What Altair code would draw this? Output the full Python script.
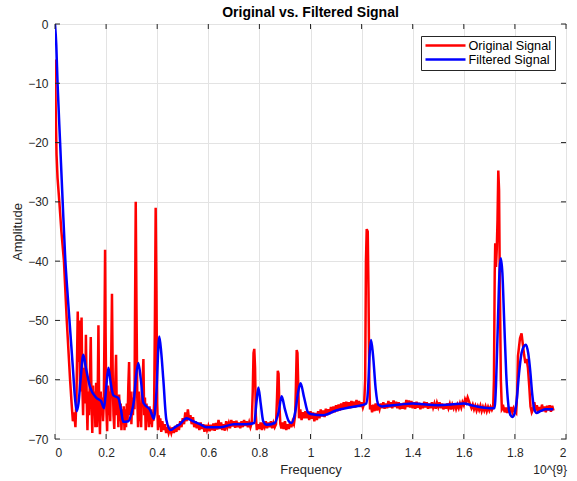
import altair as alt
import pandas as pd

# ---- data ----
red_pts = [
(0.000,-6.0),(0.003,-15),(0.006,-22),(0.010,-26),(0.017,-30),(0.025,-35),(0.035,-40),(0.046,-50),(0.059,-60),(0.065,-64),
(0.070,-67),(0.075,-65.5),(0.080,-68),(0.084,-63),(0.089,-48.5),(0.092,-57),(0.095,-50),(0.098,-62),(0.101,-55),(0.104,-49.5),(0.107,-61),(0.110,-66),(0.113,-58),(0.116,-64),(0.119,-60),(0.121,-52.4),(0.124,-63),(0.127,-68.5),(0.130,-62),(0.133,-66),(0.136,-61),(0.140,-52.8),(0.143,-64),(0.146,-69),(0.149,-61),(0.152,-66),(0.155,-62),(0.158,-68),(0.161,-60.5),(0.164,-68),(0.167,-63),(0.170,-50.8),(0.173,-65),(0.176,-69.2),(0.179,-62),(0.182,-66),(0.185,-63),(0.188,-67),(0.191,-64),(0.194,-50),(0.196,-38.1),(0.198,-52),(0.201,-65),(0.204,-68.7),(0.207,-61),(0.210,-66),(0.213,-62),(0.216,-67),(0.219,-60),(0.223,-45.5),(0.226,-60),(0.229,-66),(0.232,-68.3),(0.235,-62),(0.239,-55.8),(0.242,-66),(0.245,-63),(0.248,-68),(0.251,-62.5),(0.254,-67),(0.257,-64),(0.260,-68.5),(0.263,-65),(0.266,-67.5),(0.269,-64.5),(0.272,-68.5),(0.275,-65),(0.278,-68),(0.281,-64),(0.284,-67),(0.287,-61),(0.290,-57),(0.293,-66),(0.296,-62),(0.299,-67.5),(0.302,-63),(0.305,-66),(0.308,-62),(0.311,-65),(0.313,-50),(0.316,-30),(0.319,-48),(0.322,-63),(0.325,-68),(0.328,-62),(0.331,-67),(0.334,-64),(0.337,-68),(0.340,-62),(0.343,-60),(0.346,-56.5),(0.349,-66),(0.352,-63),(0.355,-68.5),(0.358,-64),(0.361,-67),(0.364,-65),(0.367,-68),(0.370,-64.5),(0.373,-67.5),(0.376,-65),(0.379,-68),(0.382,-65.5),(0.385,-67),(0.388,-64),(0.391,-50),(0.394,-31),(0.397,-45),(0.400,-64),(0.403,-68.5),(0.406,-66),(0.409,-68),(0.412,-66.5),(0.416,-68.8),(0.420,-67),(0.425,-68.5),(0.430,-67.5),(0.435,-69),(0.440,-68),(0.445,-69),(0.450,-68.3),
(0.455,-69),(0.460,-68),(0.465,-69),(0.470,-67.8),(0.475,-68.8),(0.480,-67.5),(0.485,-68.5),(0.490,-67),(0.495,-68),(0.500,-66.5),(0.505,-67.5),(0.510,-65.5),(0.515,-67),(0.520,-65),(0.525,-66.8),(0.530,-66),(0.535,-67.5),(0.540,-66.3),(0.545,-68),(0.550,-67),(0.555,-68.2),(0.560,-67.3),(0.565,-68.5),(0.570,-67.2),(0.575,-68.3),(0.580,-67.5),(0.585,-68.8),(0.590,-67.6),(0.595,-68.5),(0.600,-67.8),(0.605,-68.7),(0.610,-67.6),(0.615,-68.5),(0.620,-67.4),(0.625,-68.6),(0.630,-67.3),(0.635,-68.4),(0.640,-66.8),(0.645,-68.3),(0.650,-67.2),(0.655,-68.5),(0.660,-67.5),(0.665,-68.6),(0.670,-67),(0.675,-68),(0.680,-67.3),(0.685,-68.2),(0.690,-66.8),(0.695,-67.9),(0.700,-67),(0.705,-68.1),(0.710,-66.9),(0.715,-68),(0.720,-67.2),(0.725,-68.2),(0.730,-67),(0.735,-68),(0.740,-66.8),(0.745,-67.8),(0.750,-67),(0.755,-68),(0.760,-67.2),(0.765,-68),(0.770,-67.3),
(0.774,-62),(0.777,-55.5),(0.780,-54.8),(0.783,-58),(0.786,-66),(0.790,-68.5),(0.795,-67.5),(0.800,-68.3),(0.805,-67.2),(0.810,-68.5),(0.815,-67.5),(0.820,-68),(0.825,-67),(0.830,-68.2),(0.835,-67.2),(0.840,-68),(0.845,-67),(0.850,-68.2),(0.855,-67.3),(0.860,-68),(0.865,-67.5),(0.869,-63),(0.872,-58.5),(0.875,-59),(0.878,-64),(0.882,-67.5),(0.886,-68.2),(0.890,-67.2),(0.895,-68.3),(0.900,-67),(0.905,-68.5),(0.910,-67.5),(0.915,-68.3),(0.920,-67.2),(0.925,-68),(0.930,-67),(0.935,-67.5),(0.940,-66),(0.943,-61),(0.946,-55),(0.949,-55.5),(0.952,-61),(0.955,-66.5),(0.960,-65),(0.965,-66.8),(0.970,-65.5),(0.975,-66.5),(0.980,-65.3),(0.985,-66.5),(0.990,-65.5),(0.995,-66.8),(1.000,-65.3),(1.005,-66.6),(1.010,-65.5),(1.015,-67),(1.020,-65.6),(1.025,-66.8),(1.030,-65.3),(1.035,-66.5),(1.040,-65),(1.045,-66.2),(1.050,-65.2),(1.055,-66.3),(1.060,-64.9),(1.065,-66),(1.070,-65),(1.075,-65.8),(1.080,-64.6),(1.085,-65.6),(1.090,-64.5),(1.095,-65.5),(1.100,-64.3),(1.105,-65.3),(1.110,-64.2),(1.115,-65.2),(1.120,-64),(1.125,-65),(1.130,-63.8),(1.135,-64.9),(1.140,-63.7),(1.145,-64.8),(1.150,-63.8),(1.155,-64.8),(1.160,-63.6),(1.165,-64.6),(1.170,-63.7),(1.175,-64.7),(1.180,-63.4),(1.185,-64.5),(1.190,-63.6),(1.195,-64.6),(1.200,-63.8),(1.205,-64.7),(1.210,-64),
(1.214,-60),(1.217,-40),(1.220,-34.6),(1.224,-35),(1.227,-45),(1.230,-60),(1.233,-65),(1.237,-64.3),(1.241,-65.5),(1.245,-64.2),(1.250,-65.3),(1.255,-64),(1.260,-65.2),(1.265,-64.3),(1.270,-65),(1.275,-64),(1.280,-64.8),(1.285,-63.8),(1.290,-64.9),(1.295,-64),(1.300,-64.8),(1.305,-63.6),(1.310,-64.7),(1.315,-63.8),(1.320,-64.8),(1.325,-63.5),(1.330,-64.6),(1.335,-63.7),(1.340,-64.8),(1.345,-63.8),(1.350,-65),(1.355,-64),(1.360,-64.9),(1.365,-63.9),(1.370,-65),(1.375,-63.4),(1.380,-64.6),(1.385,-63.5),(1.390,-64.7),(1.395,-63.6),(1.400,-64.8),(1.405,-63.8),(1.410,-64.9),(1.415,-63.7),(1.420,-64.7),(1.425,-63.9),(1.430,-65),(1.435,-64),(1.440,-64.8),(1.445,-63.7),(1.450,-64.7),(1.455,-63.8),(1.460,-64.9),(1.465,-64),(1.470,-64.8),(1.475,-63.8),(1.480,-64.7),(1.485,-64),(1.490,-64.9),(1.495,-63.9),(1.500,-64.6),(1.505,-63.8),(1.510,-64.8),(1.515,-64),(1.520,-65),(1.525,-64.1),(1.530,-64.9),(1.535,-64),(1.540,-64.8),(1.545,-64.1),(1.550,-65),(1.555,-64.2),(1.560,-64.8),(1.565,-64),(1.570,-64.9),(1.575,-64.2),(1.580,-64.8),(1.585,-64),(1.590,-64.7),(1.595,-63.8),(1.600,-64.3),(1.605,-63.3),(1.610,-63.8),(1.615,-63),(1.620,-63.6),(1.625,-64.2),(1.630,-64.8),(1.635,-64.2),(1.640,-65),(1.645,-64.4),(1.650,-65.2),(1.655,-64.5),(1.660,-65.1),(1.665,-64.4),(1.670,-65.3),(1.675,-64.6),(1.680,-65.2),(1.685,-64.5),(1.690,-65.3),(1.695,-64.6),(1.700,-65.2),(1.705,-64.6),(1.710,-65.1),(1.715,-64.6),
(1.718,-60),(1.721,-42),(1.723,-37),(1.726,-41),(1.729,-38),(1.732,-33),(1.735,-24.7),(1.738,-28),(1.741,-44),(1.745,-60),(1.749,-65),(1.755,-64.6),(1.760,-65.5),(1.765,-64.7),(1.770,-65.6),(1.775,-64.8),(1.780,-65.4),(1.785,-64.6),(1.790,-65.5),(1.795,-64.8),(1.800,-65.3),(1.805,-65.6),(1.809,-62),(1.812,-56),(1.816,-54.5),(1.820,-53),(1.826,-52.2),(1.831,-54),(1.836,-55.8),(1.841,-57.2),(1.846,-56.5),(1.851,-58),(1.856,-61),(1.861,-64.5),(1.866,-65.5),(1.871,-65),(1.876,-63.8),(1.881,-65.2),(1.886,-64.3),(1.891,-65.5),(1.896,-64.6),(1.901,-65.4),(1.906,-64.2),(1.911,-65.3),(1.916,-64.5),(1.921,-65.5),(1.926,-64.4),(1.931,-65.2),(1.936,-64.3),(1.941,-65.4),(1.946,-64.4),(1.951,-65.2),
]

blue_pts = [
(0,0),(0.005,-3.5),(0.01,-10),(0.02,-20),(0.03,-30),(0.04,-39.5),(0.05,-46),(0.06,-52),(0.07,-58),(0.078,-63),(0.085,-65.3),(0.092,-64),(0.1,-60),(0.111,-55.8),(0.12,-57.8),(0.137,-61.2),(0.163,-63.1),(0.18,-63.6),(0.192,-64.8),(0.2,-61.5),(0.209,-58),(0.218,-60.5),(0.228,-62.6),(0.248,-63.1),(0.258,-65),(0.267,-67.1),(0.287,-67),(0.3,-65.5),(0.309,-63.5),(0.317,-59.5),(0.326,-57.2),(0.336,-60),(0.346,-63.9),(0.372,-65.1),(0.387,-66.6),(0.397,-62),(0.408,-52.7),(0.416,-55.5),(0.424,-60),(0.436,-66.8),(0.453,-68.5),(0.47,-68),(0.489,-67.5),(0.515,-66.5),(0.54,-67),(0.567,-67.5),(0.593,-68),(0.65,-68),(0.7,-67.5),(0.75,-67.5),(0.78,-67.3),(0.788,-64),(0.796,-61.3),(0.805,-64),(0.815,-67),(0.828,-67.6),(0.86,-67.3),(0.875,-65.5),(0.887,-62.8),(0.9,-65),(0.915,-67),(0.926,-67.3),(0.94,-65.5),(0.952,-62),(0.961,-60.6),(0.975,-63),(0.99,-65.5),(1.0,-65.8),(1.05,-66),(1.1,-65.2),(1.15,-64.7),(1.2,-64.3),(1.218,-64),(1.226,-61),(1.231,-56),(1.237,-53.3),(1.245,-56),(1.255,-61.5),(1.265,-64.2),(1.28,-64.5),(1.3,-64.4),(1.35,-64.2),(1.4,-64),(1.45,-64.2),(1.5,-64.3),(1.55,-64.2),(1.6,-64),(1.63,-64.3),(1.65,-64.5),(1.7,-64.8),(1.72,-64.8),(1.726,-61),(1.733,-51),(1.74,-41.5),(1.745,-39.5),(1.751,-42),(1.758,-50),(1.766,-59),(1.775,-64.5),(1.783,-66),(1.79,-66.3),(1.798,-65.8),(1.807,-63.5),(1.816,-59),(1.826,-55.5),(1.836,-54.3),(1.843,-54.1),(1.852,-55.5),(1.86,-58.5),(1.868,-62.5),(1.876,-65),(1.885,-65.6),(1.9,-65.3),(1.92,-65),(1.95,-65),
]

series_names = ["Original Signal", "Filtered Signal"]
series_colors = ["#ff0000", "#0000ff"]
x_ticks = [0, 0.2, 0.4, 0.6, 0.8, 1.0, 1.2, 1.4, 1.6, 1.8, 2.0]
y_ticks = [-70, -60, -50, -40, -30, -20, -10, 0]

W, H = 511, 415
FONT = "Liberation Sans"
TXT = "#262626"

red_df = pd.DataFrame(red_pts, columns=["f", "a"]).assign(s=series_names[0], o=lambda d: range(len(d)))
blue_df = pd.DataFrame(blue_pts, columns=["f", "a"]).assign(s=series_names[1], o=lambda d: range(len(d)))
xt_df = pd.DataFrame({"t": x_ticks})
yt_df = pd.DataFrame({"t": y_ticks})

xscale = alt.Scale(domain=[0, 2], nice=False, zero=False)
yscale = alt.Scale(domain=[-70, 0], nice=False, zero=False)
cscale = alt.Scale(domain=series_names, range=series_colors)

xaxis = alt.Axis(values=x_ticks, format="~g", title="Frequency", grid=True, ticks=False,
                 domain=False, labelPadding=8, titlePadding=5, labelFontSize=12,
                 titleFontSize=13, titleFontWeight="normal")
yaxis = alt.Axis(values=y_ticks, format="~g", title="Amplitude", grid=True, ticks=False,
                 domain=False, labelPadding=7, titlePadding=3, labelFontSize=12,
                 titleFontSize=13, titleFontWeight="normal")

# line-shaped legend symbol: custom path scaled by sqrt(size)/2 -> 40 px wide line
legend = alt.Legend(title=None, orient="none", legendX=366, legendY=12,
                    symbolType="M-4,0H4", symbolSize=100, symbolStrokeWidth=2.5,
                    symbolFillColor="transparent",
                    labelFontSize=12.7, strokeColor=TXT, fillColor="white",
                    padding=3, rowPadding=0, labelOffset=16.5, symbolOffset=15)

red = alt.Chart(red_df).mark_line(strokeWidth=2.5, clip=True).encode(
    x=alt.X("f:Q", scale=xscale, axis=xaxis),
    y=alt.Y("a:Q", scale=yscale, axis=yaxis),
    color=alt.Color("s:N", scale=cscale, legend=legend),
    order="o:Q",
)
blue = alt.Chart(blue_df).mark_line(strokeWidth=2.5, interpolate="monotone", clip=True).encode(
    x=alt.X("f:Q", scale=xscale),
    y=alt.Y("a:Q", scale=yscale),
    color=alt.Color("s:N", scale=cscale, legend=legend),
    order="o:Q",
)

tick_style = dict(color=TXT, strokeWidth=1)
xt_bottom = alt.Chart(xt_df).mark_rule(**tick_style).encode(
    x=alt.X("t:Q", scale=xscale), y=alt.value(H), y2=alt.value(H - 5))
xt_top = alt.Chart(xt_df).mark_rule(**tick_style).encode(
    x=alt.X("t:Q", scale=xscale), y=alt.value(0), y2=alt.value(5))
yt_left = alt.Chart(yt_df).mark_rule(**tick_style).encode(
    y=alt.Y("t:Q", scale=yscale), x=alt.value(0), x2=alt.value(5))
yt_right = alt.Chart(yt_df).mark_rule(**tick_style).encode(
    y=alt.Y("t:Q", scale=yscale), x=alt.value(W), x2=alt.value(W - 5))

exp_label = alt.Chart(pd.DataFrame({"f": [2.0], "lab": ["10^{9}"]})).mark_text(
    align="right", baseline="middle", fontSize=12, font=FONT, color=TXT, dx=1
).encode(x=alt.X("f:Q", scale=xscale), y=alt.value(H + 31), text="lab:N")

chart = alt.layer(red, blue, xt_bottom, xt_top, yt_left, yt_right, exp_label).properties(
    width=W, height=H,
    title=alt.TitleParams("Original vs. Filtered Signal", fontSize=14, fontWeight="bold",
                          font=FONT, color="black", offset=-2, anchor="middle"),
    autosize=alt.AutoSizeParams(type="none"),
    padding={"left": 55, "top": 24, "right": 11, "bottom": 42},
).configure(
    font=FONT, background="white"
).configure_view(
    stroke=TXT, strokeWidth=1
).configure_axis(
    labelFont=FONT, titleFont=FONT, labelColor=TXT, titleColor=TXT,
    gridColor="#e3e3e3", gridWidth=1
).configure_legend(
    labelFont=FONT, labelColor="black"
)

chart.save("out.html", embed_options={"renderer": "svg", "actions": False})
